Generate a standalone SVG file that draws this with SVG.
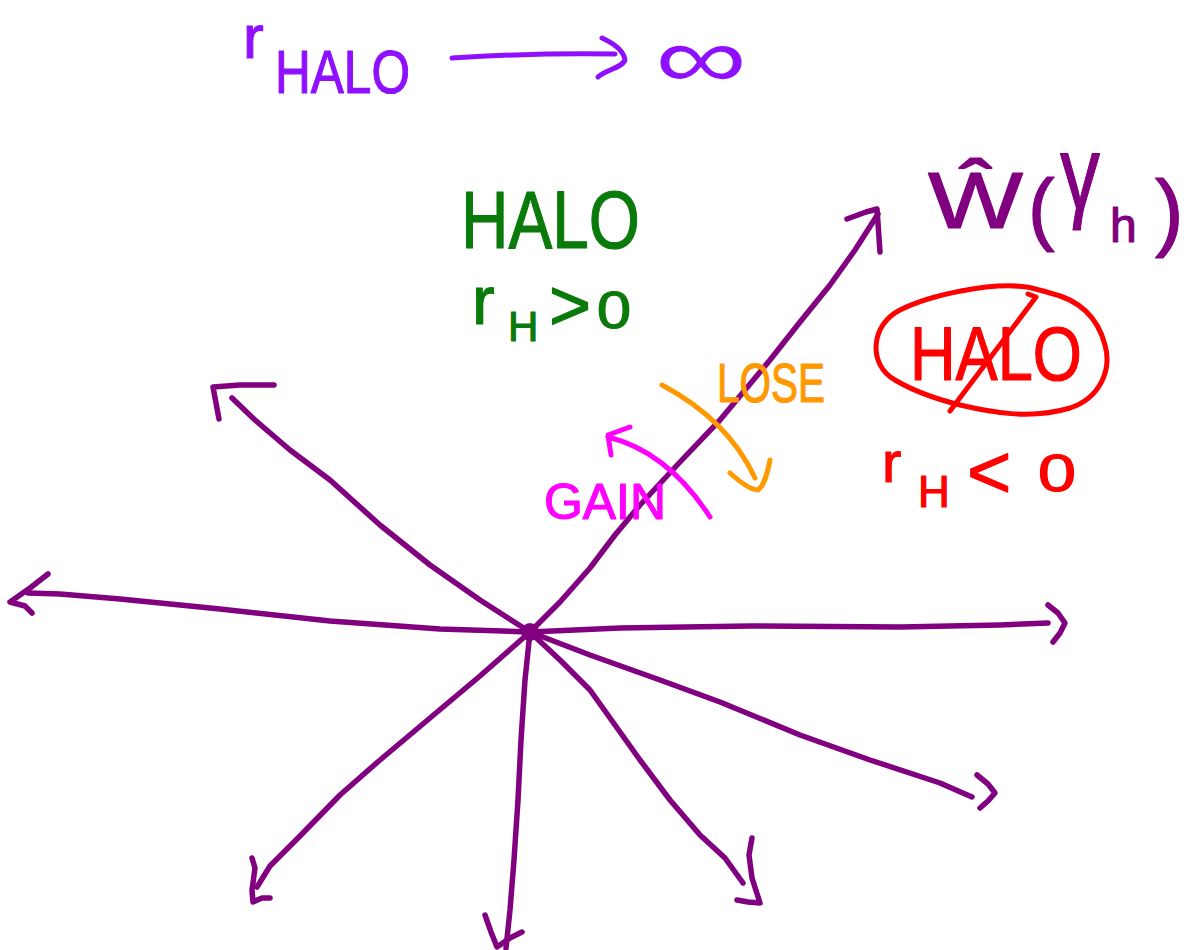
<svg xmlns="http://www.w3.org/2000/svg" width="1203" height="950" viewBox="0 0 1203 950">
<style>
.ray{fill:none;stroke:#800080;stroke-width:5.5;stroke-linecap:round;stroke-linejoin:round}
.ink{fill:none;stroke-width:5;stroke-linecap:round;stroke-linejoin:round}
.t{font-family:"Liberation Sans","DejaVu Sans",sans-serif;stroke-width:1.2;stroke-linejoin:round}
.vio{fill:#8F10FF;stroke:#8F10FF}
.grn{fill:#0A7A0A;stroke:#0A7A0A}
.red{fill:#FF0000;stroke:#FF0000}
.org{fill:#FF9900;stroke:#FF9900}
.mag{fill:#FF00FF;stroke:#FF00FF}
.pur{fill:#800080;stroke:#800080}
</style>
<rect width="1203" height="950" fill="#ffffff"/>

<g id="connectors">
  <polyline class="ray" points="530,632 560,602 590,568 615,535 640,505 680,462 720,420 745,390 770,360 800,322 830,285 855,250 878,214"/>
  <polyline class="ray" points="847,219 866,212 877,209 880,252"/>
  <polyline class="ray" points="530,632 480,600 430,565 380,525 330,480 290,450 255,420 232,398"/>
  <polyline class="ray" points="274,385 240,385 213,387 219,419"/>
  <polyline class="ray" points="530,632 440,629 330,621 220,609 120,599 60,594 28,593"/>
  <polyline class="ray" points="48,574 30,588 10,602 25,606 32,613"/>
  <polyline class="ray" points="530,632 620,628 750,626 900,627 1000,625 1048,623"/>
  <polyline class="ray" points="1048,605 1058,613 1065,623 1060,633 1053,642"/>
  <polyline class="ray" points="530,632 590,655 660,680 720,702 800,735 870,760 940,783 972,797"/>
  <polyline class="ray" points="977,775 988,784 995,793 988,801 980,808"/>
  <polyline class="ray" points="530,632 560,660 590,690 615,725 640,760 670,800 700,835 725,858 743,883"/>
  <polyline class="ray" points="752,838 749,855 752,878 760,903 748,902 737,900"/>
  <polyline class="ray" points="530,632 525,680 521,740 518,800 514,860 510,910 506,948"/>
  <polyline class="ray" points="485,915 491,932 497,947 510,938 522,932"/>
  <polyline class="ray" points="530,632 480,676 430,718 380,760 340,795 300,836 270,866 257,887"/>
  <polyline class="ray" points="252,858 255,868 252,890 253,902 262,898 270,898"/>
  <path class="ink" stroke="#8F10FF" d="M452,58 C500,55 560,53 615,54"/>
  <path class="ink" stroke="#8F10FF" d="M602,38 C615,44 624,52 625,60 C622,68 605,70 598,77"/>
  <path class="ink" stroke="#FF9900" d="M662,385 Q728,420 755,478"/>
  <path class="ink" stroke="#FF9900" d="M730,473 C740,482 750,490 758,490 C765,485 768,470 770,460"/>
  <path class="ink" stroke="#FF00FF" d="M710,517 Q668,452 608,437"/>
  <path class="ink" stroke="#FF00FF" d="M630,427 L608,435 L611,455"/>
</g>

<g id="origin">
  <circle cx="530" cy="632" r="9" fill="#800080"/>
</g>

<g id="r-halo-infinity">
  <text class="t vio" x="243" y="58" font-size="62">r</text>
  <text class="t vio" x="275" y="93" font-size="62" textLength="135" lengthAdjust="spacingAndGlyphs">HALO</text>
  <text x="655" y="88" font-size="88" textLength="92" lengthAdjust="spacingAndGlyphs" font-family="'Liberation Sans','DejaVu Sans',sans-serif" fill="#8F10FF">∞</text>
</g>

<g id="halo-positive">
  <text class="t grn" x="461" y="248" font-size="82" textLength="179" lengthAdjust="spacingAndGlyphs">HALO</text>
  <text class="t grn" x="472" y="324" font-size="68">r</text>
  <text class="t grn" x="508" y="341" font-size="42">H</text>
  <text class="t grn" x="549" y="330" font-size="72">&gt;</text>
  <text class="t grn" x="597" y="328" font-size="52" textLength="34" lengthAdjust="spacingAndGlyphs">0</text>
</g>

<g id="w-hat">
  <text class="t pur" x="928" y="228" font-size="80" textLength="95" lengthAdjust="spacingAndGlyphs" stroke-width="0">Ŵ</text>
  <text class="t pur" x="1028" y="235" font-size="80" stroke-width="0">(</text>
  <text class="t pur" x="1060" y="208" font-size="104" textLength="40" lengthAdjust="spacingAndGlyphs">γ</text>
  <text class="t pur" x="1110" y="242" font-size="48">h</text>
  <text class="t pur" x="1155" y="240" font-size="86" stroke-width="0">)</text>
</g>

<g id="halo-negative">
  <path class="ink" stroke="#FF0000" d="M1027,287 C990,282 930,295 900,310 C870,325 868,365 895,380 C915,392 940,400 960,405 C990,412 1030,420 1070,408 C1100,398 1112,370 1105,345 C1098,318 1080,300 1050,293 C1040,290 1032,288 1027,287"/>
  <text class="t red" x="910" y="380" font-size="76" textLength="172" lengthAdjust="spacingAndGlyphs">HALO</text>
  <path class="ink" stroke="#FF0000" d="M950,411 L1036,297 L1028,294"/>
  <text class="t red" x="882" y="482" font-size="58">r</text>
  <text class="t red" x="918" y="507" font-size="44">H</text>
  <text class="t red" x="967" y="498" font-size="76">&lt;</text>
  <text class="t red" x="1038" y="491" font-size="52" textLength="38" lengthAdjust="spacingAndGlyphs">0</text>
</g>

<g id="lose-label">
  <text class="t org" x="717" y="402" font-size="56" textLength="108" lengthAdjust="spacingAndGlyphs">LOSE</text>
</g>

<g id="gain-label">
  <text class="t mag" x="544" y="519" font-size="50" textLength="122" lengthAdjust="spacingAndGlyphs">GAIN</text>
</g>
</svg>
